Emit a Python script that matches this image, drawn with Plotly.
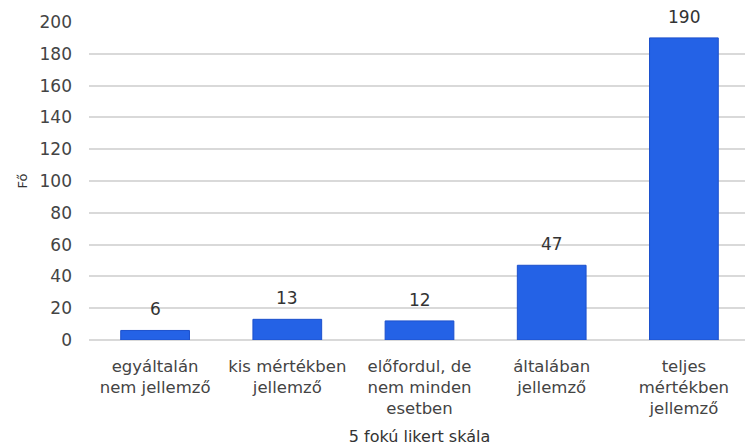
import plotly.graph_objs as go

chart_name = 'likert-bar'

categories = [
    'egyáltalán<br>nem jellemző',
    'kis mértékben<br>jellemző',
    'előfordul, de<br>nem minden<br>esetben',
    'általában<br>jellemző',
    'teljes<br>mértékben<br>jellemző',
]
counts = [6, 13, 12, 47, 190]

# page body has an 8px margin, so the figure is a bit smaller than the window
font_family = 'DejaVu Sans, Verdana, sans-serif'

trace = go.Bar(
    x=categories,
    y=counts,
    marker=dict(color='#2462e6', line=dict(color='#1c50cc', width=1)),
    width=0.52,
)

fig = go.Figure(data=[trace])

# value labels sit a bit higher above the bars than plotly's 'outside' text
for cat, val in zip(categories, counts):
    fig.add_annotation(
        x=cat, y=val, text=str(val),
        showarrow=False, yanchor='bottom', yshift=9,
        font=dict(size=17, color='#333333'),
    )

fig.update_layout(
    width=745,
    height=440,
    margin=dict(l=81, r=3, t=14, b=108, autoexpand=False),
    paper_bgcolor='white',
    plot_bgcolor='white',
    font=dict(family=font_family, size=16, color='#444444'),
    showlegend=False,
    xaxis=dict(
        title=dict(text='5 fokú likert skála', font=dict(size=16, color='#333333'), standoff=13),
        tickfont=dict(size=16.5, color='#444444'),
        showgrid=False,
        showline=False,
        ticks='',
        ticklabelstandoff=14,
        automargin=False,
    ),
    yaxis=dict(
        title=dict(text='Fő', font=dict(size=13, color='#333333'), standoff=8),
        range=[0, 200],
        dtick=20,
        tickfont=dict(size=17, color='#444444'),
        gridcolor='#d9d9d9',
        gridwidth=2,
        zeroline=True,
        zerolinecolor='#d9d9d9',
        zerolinewidth=2,
        ticks='',
        ticklabelstandoff=16,
        automargin=False,
    ),
)

fig.write_html('out.html')
